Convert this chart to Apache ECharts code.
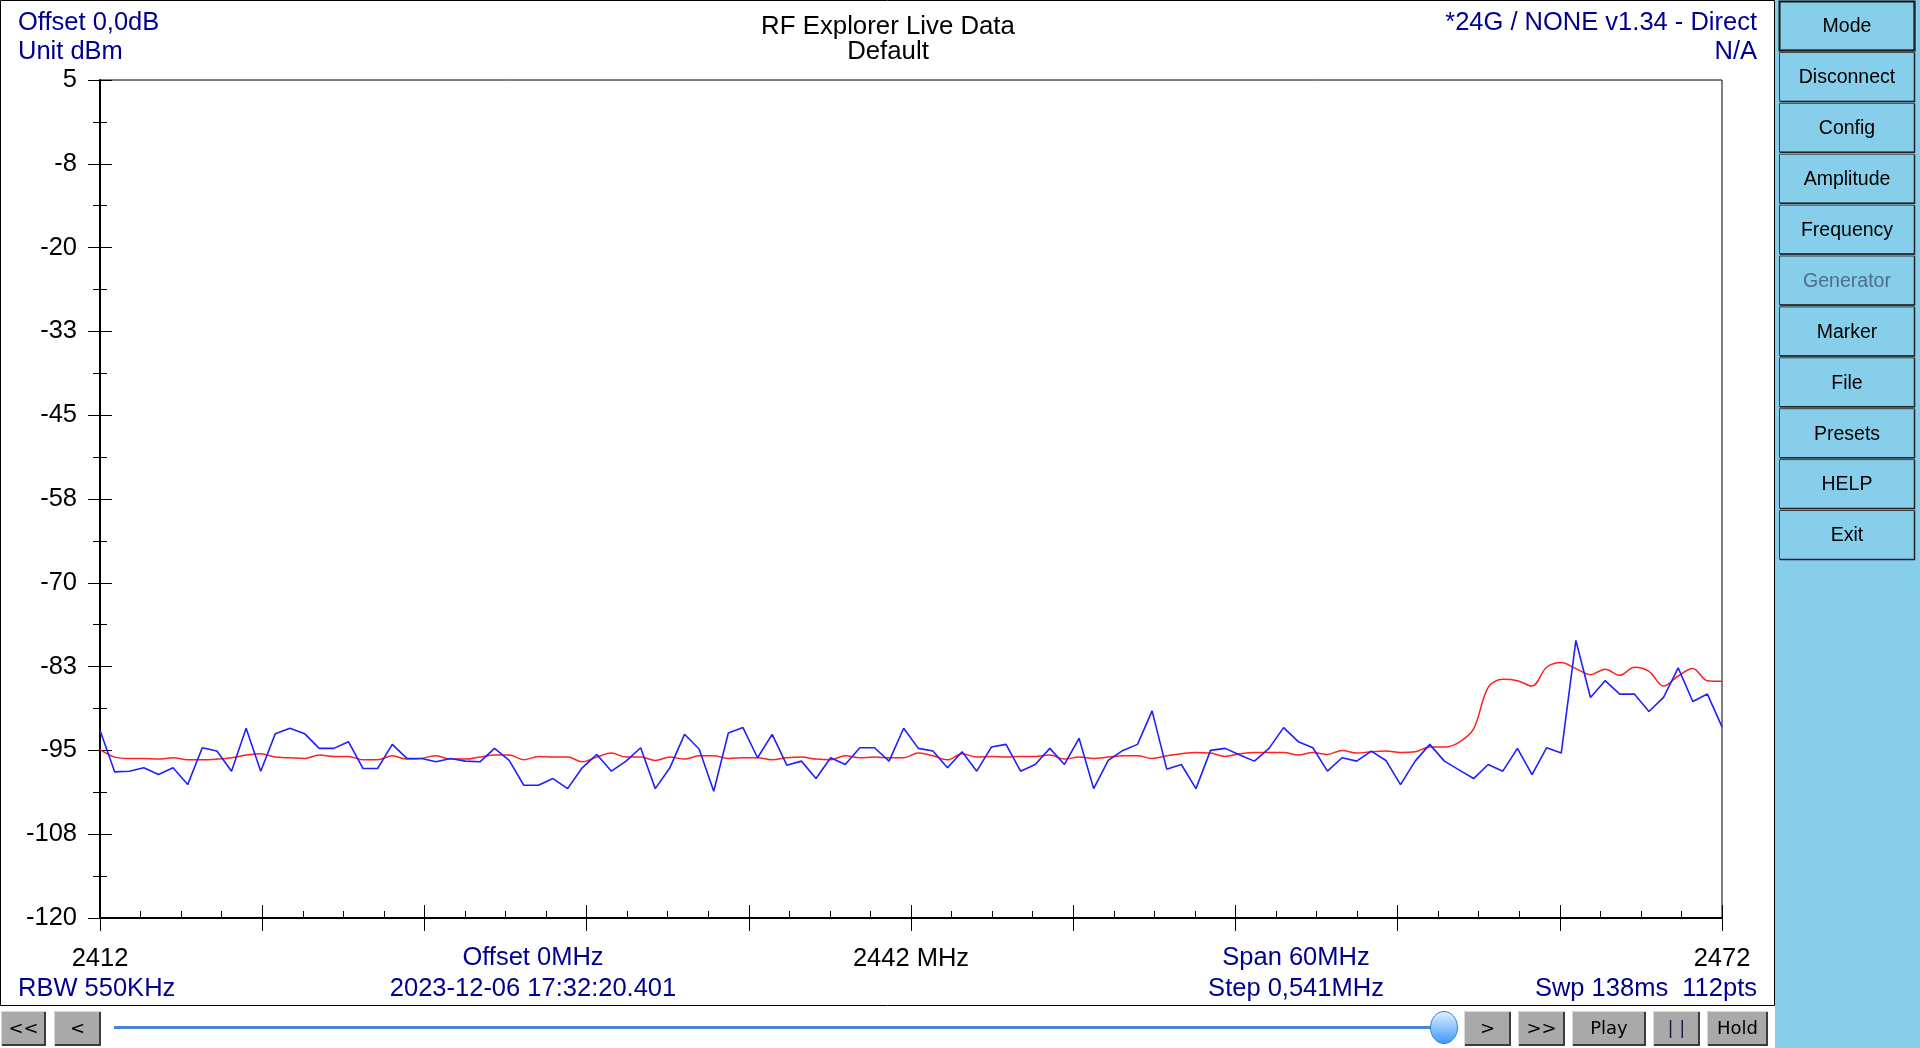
<!DOCTYPE html>
<html>
<head>
<meta charset="utf-8">
<script src="https://cdn.jsdelivr.net/npm/echarts@6/dist/echarts.min.js"></script>
<style>
html,body{margin:0;padding:0;background:#fff;overflow:hidden;}
#chart{width:1920px;height:1048px;}
</style>
</head>
<body>
<div id="chart"></div>
<script>
// ---- sweep definition ----
const START_MHZ = 2412;
const STOP_MHZ = 2472;
const NUM_POINTS = 112;

// ---- live trace (blue), dBm ----
const liveTrace = [
  -92.0,-98.2,-98.1,-97.6,-98.6,-97.6,-100.1,-94.6,-95.1,-98.1,
  -91.7,-98.1,-92.5,-91.7,-92.5,-94.7,-94.7,-93.7,-97.7,-97.7,
  -94.1,-96.2,-96.2,-96.7,-96.2,-96.6,-96.7,-94.7,-96.5,-100.2,
  -100.2,-99.2,-100.7,-97.6,-95.6,-98.1,-96.6,-94.6,-100.7,-97.6,
  -92.6,-94.8,-101.1,-92.4,-91.6,-96.1,-92.6,-97.2,-96.6,-99.2,
  -96.1,-97.1,-94.6,-94.6,-96.6,-91.7,-94.7,-95.1,-97.6,-95.2,
  -98.1,-94.5,-94.1,-98.1,-97.1,-94.7,-97.1,-93.2,-100.7,-96.5,
  -95.0,-94.1,-89.1,-97.8,-97.1,-100.7,-95.0,-94.7,-95.7,-96.6,
  -94.7,-91.6,-93.7,-94.6,-98.1,-96.1,-96.6,-95.1,-96.5,-100.1,
  -96.6,-94.1,-96.6,-97.9,-99.2,-97.1,-98.1,-94.7,-98.6,-94.6,
  -95.4,-78.6,-87.1,-84.6,-86.6,-86.6,-89.2,-87.1,-82.7,-87.7,
  -86.6,-91.5
];

// ---- average trace (red), dBm ----
const avgTrace = [
  -94.9,-96.0,-96.2,-96.2,-96.3,-96.1,-96.4,-96.4,-96.3,-96.1,
  -95.7,-95.5,-96.0,-96.1,-96.2,-95.7,-95.9,-95.9,-96.4,-96.4,
  -95.8,-96.3,-96.2,-95.8,-96.3,-96.3,-96.0,-95.7,-95.7,-96.4,
  -95.9,-96.0,-96.0,-96.7,-96.0,-95.4,-96.0,-96.0,-96.5,-96.0,
  -96.3,-95.8,-95.8,-96.2,-96.1,-96.1,-96.4,-96.1,-96.0,-96.3,
  -96.4,-95.8,-96.1,-96.0,-96.1,-96.1,-95.4,-95.8,-96.4,-95.5,
  -96.0,-95.9,-96.0,-95.9,-95.9,-95.7,-96.3,-96.0,-96.2,-96.0,
  -95.8,-95.8,-96.2,-95.8,-95.5,-95.3,-95.4,-95.9,-95.5,-95.3,
  -95.3,-95.3,-95.7,-95.3,-95.6,-95.0,-95.4,-95.2,-95.1,-95.3,
  -95.2,-94.5,-94.5,-93.8,-91.8,-85.6,-84.4,-84.6,-85.4,-82.6,
  -81.9,-82.8,-83.7,-82.9,-83.8,-82.6,-83.2,-85.4,-83.9,-82.8,
  -84.6,-84.7
];

// ---- axis ticks ----
const yTickValues = [-120,-107.5,-95,-82.5,-70,-57.5,-45,-32.5,-20,-7.5,5];
const yTickLabels = ['-120','-108','-95','-83','-70','-58','-45','-33','-20','-8','5'];
const xLabelValues = [2412, 2442, 2472];
const xLabelTexts = ['2412', '2442 MHz', '2472'];

// ---- panel texts ----
const sideButtons = ['Mode','Disconnect','Config','Amplitude','Frequency','Generator','Marker','File','Presets','HELP','Exit'];
const bottomButtons = [
  {t:'<<', x0:1, x1:46}, {t:'<', x0:54, x1:101},
  {t:'>', x0:1464, x1:1511}, {t:'>>', x0:1518, x1:1565},
  {t:'Play', x0:1572, x1:1646}, {t:'| |', x0:1653, x1:1700}, {t:'Hold', x0:1707, x1:1768}
];

const STEP = (STOP_MHZ - START_MHZ) / (NUM_POINTS - 1);
const freqs = liveTrace.map((_, i) => START_MHZ + i * STEP);

const FONT = '"Liberation Sans", Arial, sans-serif';
const NAVY = '#000090';

function yLabel(v){
  const i = yTickValues.findIndex(t => Math.abs(t - v) < 1e-6);
  return i >= 0 ? yTickLabels[i] : '';
}
function xLabel(v){
  const i = xLabelValues.findIndex(t => Math.abs(t - v) < 1e-6);
  return i >= 0 ? xLabelTexts[i] : '';
}

function txt(text, x, y, align, size, color, family){
  return {
    type:'text', silent:true, z:10,
    style:{text:text, x:x, y:y, font:(size||25.5)+'px '+(family||FONT),
      fill:color||'#000', align:align||'left', textAlign:align||'left',
      verticalAlign:'middle', textVerticalAlign:'middle'}
  };
}

const graphics = [];
// outer frame of the chart area
graphics.push({type:'rect', silent:true, z:0, shape:{x:0.5,y:0.5,width:1774,height:1005},
  style:{fill:'#fff', stroke:'#000', lineWidth:1}});
// right panel
graphics.push({type:'rect', silent:true, z:0, shape:{x:1775,y:0,width:145,height:1048},
  style:{fill:'#87CEEB', stroke:null}});
sideButtons.forEach((b, k) => {
  const y0 = 1 + 50.9 * k;
  graphics.push({type:'rect', silent:true, z:5, shape:{x:1779.5,y:y0+0.5,width:135,height:49},
    style:{fill:'#87CEEB', stroke: k===0 ? '#111' : '#3c3c3c', lineWidth: k===0 ? 2 : 1}});
  graphics.push({type:'polyline', silent:true, z:6, shape:{points:[[1780,y0+49.5],[1914.5,y0+49.5],[1914.5,y0+1]]},
    style:{stroke:'#222', lineWidth:1.5, fill:null}});
  graphics.push(txt(b, 1847, y0 + 26, 'center', 19.5, b==='Generator' ? '#4a6e8c' : '#000'));
});
// bottom controls
graphics.push({type:'line', silent:true, z:5, shape:{x1:114,y1:1027.5,x2:1432,y2:1027.5},
  style:{stroke:'#4a86d0', lineWidth:3}});
graphics.push({type:'ellipse', silent:true, z:6, shape:{cx:1444,cy:1027.5,rx:13.5,ry:16},
  style:{fill:{type:'linear',x:0,y:0,x2:0,y2:1,colorStops:[{offset:0,color:'#e4f2ff'},{offset:1,color:'#3a96ff'}]},
    stroke:'#2f7fd8', lineWidth:1}});
bottomButtons.forEach(b => {
  const y0 = 1011, y1 = 1046;
  graphics.push({type:'rect', silent:true, z:5, shape:{x:b.x0,y:y0,width:b.x1-b.x0,height:y1-y0},
    style:{fill:'#a9a9a9', stroke:null}});
  graphics.push({type:'polyline', silent:true, z:6, shape:{points:[[b.x0+0.5,y1],[b.x0+0.5,y0+0.5],[b.x1,y0+0.5]]},
    style:{stroke:'#d8d8d8', lineWidth:1, fill:null}});
  graphics.push({type:'polyline', silent:true, z:6, shape:{points:[[b.x0+1,y1-1],[b.x1-1,y1-1],[b.x1-1,y0+1]]},
    style:{stroke:'#3c3c3c', lineWidth:2, fill:null}});
  graphics.push(txt(b.t, (b.x0+b.x1)/2, (y0+y1)/2 + 1, 'center', 18, b.t==='| |' ? '#1a1a50' : '#000', '"DejaVu Sans", sans-serif'));
});
// header texts
graphics.push(txt('Offset 0,0dB', 18, 22.5, 'left', 25.5, NAVY));
graphics.push(txt('Unit dBm', 18, 52, 'left', 25.5, NAVY));
graphics.push(txt('RF Explorer Live Data', 888, 27, 'center', 25.8, '#000'));
graphics.push(txt('Default', 888, 52, 'center', 25.8, '#000'));
graphics.push(txt('*24G / NONE v1.34 - Direct', 1757, 22.5, 'right', 25.5, NAVY));
graphics.push(txt('N/A', 1757, 52, 'right', 25.5, NAVY));
// footer texts
graphics.push(txt('Offset 0MHz', 533, 957.5, 'center', 25.5, NAVY));
graphics.push(txt('Span 60MHz', 1296, 957.5, 'center', 25.5, NAVY));
graphics.push(txt('RBW 550KHz', 18, 988.5, 'left', 25.5, NAVY));
graphics.push(txt('2023-12-06 17:32:20.401', 533, 988.5, 'center', 25.5, NAVY));
graphics.push(txt('Step 0,541MHz', 1296, 988.5, 'center', 25.5, NAVY));
graphics.push(txt('Swp 138ms  112pts', 1757, 988.5, 'right', 25.5, NAVY));

const GRID_TOP = 80, GRID_BOTTOM = 130, GRID_H = 1048 - GRID_TOP - GRID_BOTTOM;

const chart = echarts.init(document.getElementById('chart'), null, {renderer:'canvas'});
const yCommon = {type:'value', min:-120, max:5, interval:12.5, position:'left', splitLine:{show:false}, gridIndex:0};
const xCommon = {type:'value', min:START_MHZ, max:STOP_MHZ, interval:6, splitLine:{show:false}, gridIndex:0};
chart.setOption({
  animation:false,
  backgroundColor:'#fff',
  grid:{left:100, right:198, top:GRID_TOP, bottom:GRID_BOTTOM, show:true, borderColor:'#000', borderWidth:1, backgroundColor:'rgba(0,0,0,0)', z:1},
  graphic:{elements:graphics},
  xAxis:[
    Object.assign({}, xCommon, {
      position:'bottom',
      axisLine:{show:true, onZero:false, lineStyle:{color:'#000', width:2}},
      axisTick:{show:true, inside:false, length:13, lineStyle:{color:'#000', width:1}},
      minorTick:{show:false},
      axisLabel:{show:true, margin:28, fontSize:25.5, fontFamily:FONT, color:'#000', formatter:xLabel, showMinLabel:true, showMaxLabel:true, hideOverlap:false}
    }),
    // a top-positioned twin axis moved down onto the bottom line: its outward ticks point up into the plot
    Object.assign({}, xCommon, {
      position:'top', offset:-GRID_H,
      axisLine:{show:false, onZero:false},
      axisTick:{show:true, inside:false, length:13, lineStyle:{color:'#000', width:1}},
      minorTick:{show:true, splitNumber:4, length:7, lineStyle:{color:'#000', width:1}},
      axisLabel:{show:false}
    })
  ],
  yAxis:[
    Object.assign({}, yCommon, {
      axisLine:{show:true, onZero:false, lineStyle:{color:'#000', width:2}},
      axisTick:{show:true, inside:false, length:12, lineStyle:{color:'#000', width:1}},
      minorTick:{show:true, splitNumber:2, length:7, lineStyle:{color:'#000', width:1}},
      axisLabel:{show:true, margin:23, fontSize:25.5, fontFamily:FONT, color:'#000', formatter:yLabel, showMinLabel:true, showMaxLabel:true, padding:[3,0,0,0]}
    }),
    Object.assign({}, yCommon, {
      axisLine:{show:false},
      axisTick:{show:true, inside:true, length:12, lineStyle:{color:'#000', width:1}},
      minorTick:{show:true, splitNumber:2, length:7, lineStyle:{color:'#000', width:1}},
      axisLabel:{show:false}
    })
  ],
  series:[
    {type:'line', name:'Average', xAxisIndex:0, yAxisIndex:0, data:freqs.map((f,i)=>[f, avgTrace[i]]),
      showSymbol:false, symbol:'none', smooth:0.35, silent:true, z:3,
      lineStyle:{color:'#ff2020', width:1.5}},
    {type:'line', name:'Live', xAxisIndex:0, yAxisIndex:0, data:freqs.map((f,i)=>[f, liveTrace[i]]),
      showSymbol:false, symbol:'none', smooth:false, silent:true, z:4,
      lineStyle:{color:'#2020ff', width:1.6}}
  ]
});
</script>
</body>
</html>
